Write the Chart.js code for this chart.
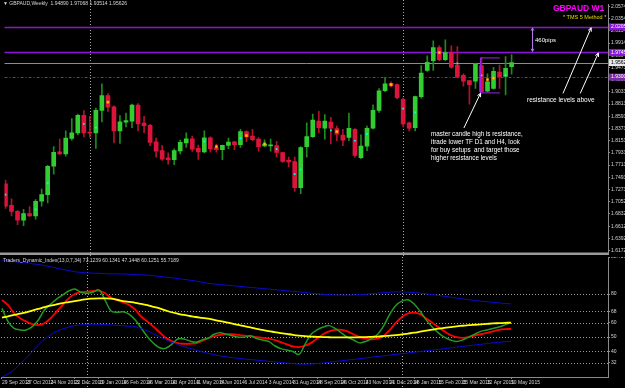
<!DOCTYPE html>
<html><head><meta charset="utf-8">
<script src="https://cdn.jsdelivr.net/npm/chart.js@4.4.1/dist/chart.umd.min.js"></script>
<style>
html,body{margin:0;padding:0;background:#000;width:625px;height:388px;overflow:hidden;}
#wrap{position:relative;width:625px;height:388px;background:#000;}
canvas{position:absolute;left:0;}
#cA{top:0;} #cB{top:257px;}
.t{position:absolute;font-family:"Liberation Sans",Arial,sans-serif;white-space:nowrap;line-height:1;}
</style></head><body>
<div id="wrap">
<canvas id="cA" width="625" height="257"></canvas>
<canvas id="cB" width="625" height="131"></canvas>
<div class="t" style="left:3px;top:1px;font-size:5px;color:#d8d8d8;">▼ GBPAUD,Weekly&nbsp; 1.94890 1.97068 1.93514 1.95626</div>
<div class="t" style="left:3px;top:258px;font-size:5px;color:#d8d8d8;">Traders_Dynamic_Index(13,0,7,34) 73.1239 60.1341 47.1448 60.1251 55.7189</div>
<div class="t" style="left:553px;top:4px;font-size:8.5px;font-weight:bold;color:#ff00ff;">GBPAUD W1</div>
<div class="t" style="left:563px;top:15px;font-size:5.5px;color:#e6dc00;">* TMS 5 Method *</div>
<div class="t" style="left:535px;top:36.5px;font-size:6px;color:#ffffff;">460pips</div>
<div class="t" style="left:527px;top:96.5px;font-size:6.5px;color:#ffffff;">resistance levels above</div>
<div class="t" style="left:431px;top:130px;font-size:6.3px;line-height:8px;color:#ffffff;">master candle high is resistance,<br>itrade lower TF D1 and H4, look<br>for buy setups&nbsp; and target those<br>higher resistance levels</div>
</div>
<script>
// ---------- DATA ----------
const dateLabels = ["29 Sep 2013","27 Oct 2013","24 Nov 2013","22 Dec 2013","19 Jan 2014","16 Feb 2014","16 Mar 2014","13 Apr 2014","11 May 2014","8 Jun 2014","6 Jul 2014","3 Aug 2014","31 Aug 2014","28 Sep 2014","26 Oct 2014","23 Nov 2014","21 Dec 2014","18 Jan 2015","15 Feb 2015","15 Mar 2015","12 Apr 2015","10 May 2015"];
const labelEvery = 4;
const yearStarts = [14, 66];

const open  = [1.7374,1.6986,1.6880,1.6720,1.6839,1.6796,1.7062,1.7180,1.7693,1.7952,1.7917,1.8193,1.8294,1.8612,1.8305,1.8294,1.8700,1.8965,1.8766,1.8329,1.8488,1.8506,1.8794,1.8470,1.8430,1.8134,1.7975,1.7846,1.7811,1.7970,1.8112,1.8188,1.8016,1.7952,1.8205,1.8023,1.7993,1.8069,1.8134,1.8081,1.8317,1.8235,1.8182,1.8058,1.8061,1.8064,1.7940,1.7799,1.7776,1.7304,1.8046,1.8228,1.8506,1.8377,1.8488,1.8370,1.8253,1.8211,1.8359,1.7846,1.8053,1.8377,1.8700,1.9054,1.9190,1.9165,1.8900,1.8476,1.8387,1.8948,1.9420,1.9596,1.9833,1.9614,1.9743,1.9519,1.9331,1.9236,1.9225,1.9508,1.9048,1.9094,1.9390,1.9313,1.94890];
const high  = [1.7445,1.7104,1.6895,1.6915,1.6963,1.7092,1.7281,1.7710,1.8046,1.8182,1.8329,1.8553,1.8635,1.8695,1.8594,1.8741,1.9177,1.9001,1.8780,1.8607,1.8652,1.8812,1.8824,1.8594,1.8447,1.8200,1.8064,1.7935,1.8005,1.8165,1.8294,1.8235,1.8076,1.8329,1.8223,1.8094,1.8075,1.8200,1.8140,1.8359,1.8329,1.8359,1.8211,1.8170,1.8182,1.8140,1.7945,1.7857,1.7857,1.8046,1.8476,1.8635,1.8683,1.8624,1.8576,1.8417,1.8359,1.8653,1.8370,1.8258,1.8417,1.8801,1.9094,1.9296,1.9213,1.9180,1.8920,1.8490,1.8960,1.9508,1.9685,1.9955,1.9862,1.9973,1.9862,1.9849,1.9360,1.9240,1.9554,1.9655,1.9360,1.9478,1.9519,1.9672,1.97068];
const low   = [1.6932,1.6796,1.6637,1.6620,1.6786,1.6738,1.6973,1.7033,1.7551,1.7905,1.7875,1.8165,1.8258,1.8223,1.8211,1.8016,1.8493,1.8683,1.8112,1.8105,1.8400,1.8387,1.8329,1.8299,1.8064,1.7857,1.7799,1.7728,1.7723,1.7917,1.8034,1.7958,1.7816,1.7935,1.7945,1.7945,1.7811,1.8011,1.7993,1.8034,1.8134,1.8152,1.7963,1.8046,1.7963,1.7857,1.7763,1.7680,1.7238,1.7198,1.7857,1.8211,1.8299,1.8182,1.8094,1.8152,1.8064,1.8152,1.7857,1.7829,1.7975,1.8359,1.8665,1.9036,1.9124,1.8907,1.8400,1.8329,1.8329,1.8918,1.9402,1.9420,1.9596,1.9596,1.9460,1.9284,1.9137,1.8812,1.9094,1.9030,1.9036,1.9083,1.9094,1.8978,1.93514];
const close = [1.6973,1.6880,1.6720,1.6839,1.6796,1.7062,1.7180,1.7693,1.7945,1.7917,1.8200,1.8294,1.8612,1.8294,1.8290,1.8700,1.8965,1.8759,1.8329,1.8493,1.8518,1.8794,1.8458,1.8423,1.8122,1.7963,1.7822,1.7811,1.7975,1.8122,1.8188,1.8000,1.7952,1.8205,1.8005,1.7993,1.8069,1.8129,1.8081,1.8317,1.8223,1.8170,1.8046,1.8094,1.8067,1.7940,1.7781,1.7769,1.7304,1.8029,1.8228,1.8523,1.8387,1.8506,1.8377,1.8271,1.8165,1.8377,1.7887,1.8058,1.8377,1.8700,1.9054,1.9177,1.9142,1.8930,1.8458,1.8377,1.8948,1.9372,1.9566,1.9833,1.9614,1.9743,1.9478,1.9301,1.9225,1.9165,1.9531,1.9036,1.9213,1.9402,1.9307,1.9460,1.95626];

const cyanIdx   = [0,5,7,13,15,33,39,45,48,49,54,58,60,66,68,75,79,83];
const cyanPrice = [1.7180,1.6915,1.7392,1.8458,1.8388,1.8140,1.8200,1.8000,1.7551,1.7634,1.8341,1.8152,1.8271,1.8730,1.8665,1.9549,1.9331,1.9331];
const yellowIdx   = [17,35,40,43,55,64,72,80,81];
const yellowPrice = [1.8847,1.8046,1.8246,1.8094,1.8317,1.9165,1.9743,1.9253,1.9283];

const priceTicks = [1.61725,1.63926,1.66127,1.68328,1.70529,1.72730,1.74930,1.77131,1.79332,1.81533,1.83734,1.85935,1.88136,1.90337,1.92538,1.94739,1.96940,1.99140,2.01341,2.03542,2.05743];
const resistance = [2.0205, 1.9745];
const pivotLevel = 1.9300;
const lastClose = 1.95626;
const masterIdx = 79;
const masterLow = 1.9024;

const tdiUpper  = [103.7,103,102.5,102,102,101,100.5,99.8,99,98,97.2,96.3,95.5,95,94.7,94.5,94.4,94.2,94,94,93.9,93.7,93.5,93.3,93.2,92.7,92.2,91.8,91.3,90.7,90.2,89.6,89,88.2,87.4,87,86.6,86.2,85.8,85.4,85,84.6,84.2,83.8,83.4,83,82.6,82.2,81.8,81.4,81,80.6,80.2,79.8,79.5,79.3,79.2,79.2,79.3,79.5,79.8,80.2,80.6,81,81.3,81.5,81.5,81.3,81,80.6,80.1,79.6,79,78.4,77.8,77.2,76.6,76,75.5,75,74.6,74.2,73.8,73.4,73.1];
const tdiLower  = [22,24.5,27.1,31.5,35.3,40,44.5,48.5,51.5,54,55.7,57,58,58.5,58.9,59,58.9,58.7,58.4,58.2,57.9,57.6,57.3,56,54.3,52.3,50.3,48.3,46.4,44.9,43.4,42.2,41,39.8,38.7,37.8,37,36.3,35.7,35.2,34.8,34.4,34,33.6,33.2,32.8,32.4,32,31.6,31.3,31.2,31.3,31.6,32,32.5,33,33.5,34,34.5,35,35.5,36,36.5,37,37.5,38,38.5,39,39.5,40,40.5,41,41.5,42,42.5,43,43.5,44,44.5,45,45.5,46,46.4,46.8,47.1];
const tdiBase   = [63.5,64.5,65.4,66.3,67.3,68.5,69.6,70.8,71.9,72.8,73.7,74.4,75.1,75.8,76.5,76.8,77,77,76.8,76,75.1,74.5,73.9,73.1,72.3,71.1,70,68.6,67.3,66.3,65.4,64.7,64,63.4,62.8,62,61.2,60.3,59.4,58.5,57.6,56.7,55.8,55,54.2,53.5,52.8,52.2,51.6,51.1,50.7,50.4,50.2,50,49.9,49.8,49.8,49.8,49.8,49.9,50,50.2,50.4,50.7,51,51.4,51.9,52.5,53.1,53.8,54.5,55.2,55.9,56.5,57,57.5,57.9,58.3,58.6,58.9,59.2,59.5,59.7,59.9,60.1];
const tdiSignal = [75.8,72.3,66.6,63.1,60.8,59.1,58.4,59.6,63.1,67.7,72.3,77,80,81.2,81.6,82.1,82.3,80.5,77.4,75.8,74.2,72.3,68.9,64.2,60.8,57.3,53.3,49.6,47.3,45.9,45.4,45.4,45.7,47.3,49.2,50.5,51.5,52,52,51.5,51,50.5,50,49.5,49,48,46.5,45,43.5,43,44,46,49,52,54,55,55,54,52,50,49,48.5,49,51,55,60,64,66.5,67,66,63,60,57,54,51.5,50,49.5,50,51,52,53,54,55,55.5,55.7];
const tdiRsi    = [70,60.8,56.1,55,55,57.3,61.9,68.9,72.8,76.5,79.3,82.1,83.5,81.2,80.5,81.2,82.8,75.8,68.2,67.3,67.7,65.9,61.9,56.1,50.3,45.7,42.6,42.2,45,48.7,48.7,47.3,46.4,48,49.2,52,53,52,51,50,50,51,49,48,47,44,42,41,40,38,45,52,55,57,58,56,53,50,48,46,47,49,52,58,66,72,75,76,73,68,62,57,53,50,48,47,48,50,52,54,55,56,57,58.5,60.1];
const tdiLevels = [32,40,50,60,68,80];
const tdiTopLabel = "88.7575";

// ---------- SETTINGS ----------
const X_MIN = -0.165, X_MAX = 100.0;
const P_MIN = 1.61371, P_MAX = 2.06093;
const I_MIN = 22.26, I_MAX = 105.74;
const FONT = "'Liberation Sans', Arial, sans-serif";
const AXIS_COL = '#8a8a8a', TXT_COL = '#d4d4d4';
const UP = '#32cd32', DN = '#dc143c', UPW = '#1f8a1f', DNW = '#b3122f';

const idx = open.map((_, i) => i);
const isUp = idx.map(i => close[i] >= open[i]);

function arrow(ctx, x1, y1, x2, y2, head, both) {
  ctx.beginPath(); ctx.moveTo(x1, y1); ctx.lineTo(x2, y2); ctx.stroke();
  const tip = (ax, ay, bx, by) => {
    const ang = Math.atan2(by - ay, bx - ax);
    ctx.beginPath();
    ctx.moveTo(bx - head * Math.cos(ang - 0.45), by - head * Math.sin(ang - 0.45));
    ctx.lineTo(bx, by);
    ctx.lineTo(bx - head * Math.cos(ang + 0.45), by - head * Math.sin(ang + 0.45));
    ctx.stroke();
  };
  tip(x1, y1, x2, y2);
  if (both) tip(x2, y2, x1, y1);
}

const sepPlugin = {
  id: 'sep',
  beforeDraw(chart) {
    const {ctx, width, height} = chart;
    ctx.save(); ctx.fillStyle = '#000'; ctx.fillRect(0, 0, width, height); ctx.restore();
  },
  beforeDatasetsDraw(chart) {
    const {ctx, scales: {x}, height} = chart;
    ctx.save();
    ctx.strokeStyle = '#a8a8a8'; ctx.lineWidth = 1; ctx.setLineDash([1, 2]);
    yearStarts.forEach(i => {
      const px = Math.round(x.getPixelForValue(i)) + 0.5;
      ctx.beginPath(); ctx.moveTo(px, 0); ctx.lineTo(px, height); ctx.stroke();
    });
    ctx.restore();
  }
};

const priceOverlay = {
  id: 'priceOverlay',
  beforeDatasetsDraw(chart) {
    const {ctx, chartArea: a, scales: {y}} = chart;
    ctx.save();
    const hl = (v, col, w, dash) => {
      const py = Math.round(y.getPixelForValue(v)) + 0.5;
      ctx.strokeStyle = col; ctx.lineWidth = w; ctx.setLineDash(dash || []);
      ctx.beginPath(); ctx.moveTo(a.left, py); ctx.lineTo(a.right, py); ctx.stroke();
    };
    hl(lastClose, '#8c8c8c', 1);
    hl(pivotLevel, '#7d2aa8', 1, [3, 2, 1, 2]);
    resistance.forEach(v => hl(v, '#8c14d8', 1.6));
    ctx.restore();
  },
  afterDatasetsDraw(chart) {
    const {ctx, scales: {x, y}} = chart;
    ctx.save();
    const bx1 = x.getPixelForValue(masterIdx - 0.15), bx2 = x.getPixelForValue(masterIdx + 3.05);
    const by1 = y.getPixelForValue(high[masterIdx]), by2 = y.getPixelForValue(masterLow);
    ctx.strokeStyle = '#a020f0'; ctx.lineWidth = 1;
    ctx.beginPath();
    ctx.moveTo(bx2, by1 + 0.5); ctx.lineTo(bx1, by1 + 0.5); ctx.lineTo(bx1, by2 + 0.5); ctx.lineTo(bx2, by2 + 0.5);
    ctx.stroke();
    ctx.strokeStyle = '#b27ae6'; ctx.lineWidth = 1;
    const px = Math.round(x.getPixelForValue(87.42)) + 0.5;
    arrow(ctx, px, y.getPixelForValue(resistance[1]) - 1, px, y.getPixelForValue(resistance[0]) + 1, 3, true);
    ctx.strokeStyle = '#ffffff'; ctx.lineWidth = 1;
    arrow(ctx, x.getPixelForValue(76.08), y.getPixelForValue(1.8382), x.getPixelForValue(78.85), y.getPixelForValue(1.9010), 4);
    arrow(ctx, x.getPixelForValue(92.53), y.getPixelForValue(1.9006), x.getPixelForValue(97.2), y.getPixelForValue(2.0190), 4);
    arrow(ctx, x.getPixelForValue(95.39), y.getPixelForValue(1.9006), x.getPixelForValue(98.41), y.getPixelForValue(1.9735), 4);
    ctx.restore();
  },
  afterDraw(chart) {
    const {ctx, chartArea: a, scales: {y}} = chart;
    ctx.save();
    ctx.fillStyle = '#9a9a9a';
    ctx.fillRect(0, a.bottom, a.right + 1, 2.5);
    ctx.font = '5px ' + FONT; ctx.textBaseline = 'middle'; ctx.textAlign = 'left';
    const box = (v, bg, fg) => {
      const py = y.getPixelForValue(v);
      ctx.fillStyle = bg; ctx.fillRect(a.right + 1, py - 3.5, 625 - a.right, 7);
      ctx.fillStyle = fg; ctx.fillText(v.toFixed(5), a.right + 3, py);
    };
    resistance.forEach(v => box(v, '#8c14d8', '#ffffff'));
    box(pivotLevel, '#7d2aa8', '#ffffff');
    box(lastClose, '#e6e6e6', '#000000');
    ctx.restore();
  }
};

const indOverlay = {
  id: 'indOverlay',
  beforeDatasetsDraw(chart) {
    const {ctx, chartArea: a, scales: {y}} = chart;
    ctx.save();
    ctx.strokeStyle = '#9a9a9a'; ctx.lineWidth = 1; ctx.setLineDash([1, 2]);
    tdiLevels.forEach(v => {
      const py = Math.round(y.getPixelForValue(v)) + 0.5;
      ctx.beginPath(); ctx.moveTo(a.left, py); ctx.lineTo(a.right, py); ctx.stroke();
    });
    ctx.restore();
  }
};

new Chart(document.getElementById('cA'), {
  type: 'bar',
  data: {
    datasets: [
      { label: 'wick', data: idx.map(i => ({x: i, y: [low[i], high[i]]})),
        backgroundColor: idx.map(i => isUp[i] ? UPW : DNW), barThickness: 1, grouped: false, order: 3 },
      { label: 'body', data: idx.map(i => ({x: i, y: [Math.min(open[i], close[i]), Math.max(open[i], close[i])]})),
        backgroundColor: idx.map(i => isUp[i] ? UP : DN), barThickness: 4, grouped: false, minBarLength: 1, order: 2 },
      { type: 'scatter', label: 'cyan', data: cyanIdx.map((v, k) => ({x: v, y: cyanPrice[k]})),
        pointStyle: 'rect', radius: 1.2, backgroundColor: '#00ffff', borderWidth: 0, order: 1 },
      { type: 'scatter', label: 'yellow', data: yellowIdx.map((v, k) => ({x: v, y: yellowPrice[k]})),
        pointStyle: 'rect', radius: 1.6, backgroundColor: '#ffd000', borderColor: '#ff8c00', borderWidth: 0.5, order: 0 }
    ]
  },
  options: {
    responsive: false, animation: false, maintainAspectRatio: false,
    layout: {padding: {left: 1, top: 1, right: 0, bottom: 3}},
    plugins: {legend: {display: false}, tooltip: {enabled: false}},
    scales: {
      x: {type: 'linear', min: X_MIN, max: X_MAX, display: false, offset: false},
      y: {
        position: 'right', min: P_MIN, max: P_MAX,
        afterFit(s) { s.width = 17; s.paddingTop = 0; s.paddingBottom = 0; },
        afterBuildTicks(s) { s.ticks = priceTicks.map(v => ({value: v})); },
        ticks: {font: {size: 5, family: FONT}, color: TXT_COL, padding: 1, callback: v => Number(v).toFixed(5)},
        grid: {drawOnChartArea: false, color: AXIS_COL, tickLength: 2},
        border: {color: AXIS_COL}
      }
    }
  },
  plugins: [sepPlugin, priceOverlay]
});

const line = (arr, col, w) => ({type: 'line', data: idx.map(i => ({x: i, y: arr[i]})), borderColor: col, borderWidth: w,
  pointRadius: 0, tension: 0.35, fill: false});
new Chart(document.getElementById('cB'), {
  type: 'line',
  data: {
    datasets: [
      line(tdiUpper, '#0a0ad0', 1),
      line(tdiLower, '#0a0ad0', 1),
      line(tdiBase, '#ffff00', 1.8),
      line(tdiRsi, '#229a22', 1.5),
      line(tdiSignal, '#ff0000', 1.8)
    ]
  },
  options: {
    responsive: false, animation: false, maintainAspectRatio: false,
    layout: {padding: {left: 1, top: 0, right: 0, bottom: 0}},
    plugins: {legend: {display: false}, tooltip: {enabled: false}},
    scales: {
      x: {
        type: 'linear', min: X_MIN, max: X_MAX, position: 'bottom',
        afterFit(s) { s.height = 11; s.paddingLeft = 0; s.paddingRight = 0; },
        afterBuildTicks(s) { s.ticks = dateLabels.map((_, k) => ({value: k * labelEvery})); },
        ticks: {autoSkip: false, maxRotation: 0, align: 'start', font: {size: 5, family: FONT}, color: TXT_COL, padding: 1,
          callback: v => dateLabels[Math.round(v / labelEvery)]},
        grid: {drawOnChartArea: false, color: AXIS_COL, tickLength: 2},
        border: {color: AXIS_COL}
      },
      y: {
        position: 'right', min: I_MIN, max: I_MAX,
        afterFit(s) { s.width = 17; s.paddingTop = 0; s.paddingBottom = 0; },
        afterBuildTicks(s) { s.ticks = tdiLevels.concat([I_MAX]).map(v => ({value: v})); },
        ticks: {font: {size: 5, family: FONT}, color: TXT_COL, padding: 1, callback: v => v === I_MAX ? tdiTopLabel : String(v)},
        grid: {drawOnChartArea: false, color: AXIS_COL, tickLength: 2},
        border: {color: AXIS_COL}
      }
    }
  },
  plugins: [sepPlugin, indOverlay]
});
</script>
</body></html>
